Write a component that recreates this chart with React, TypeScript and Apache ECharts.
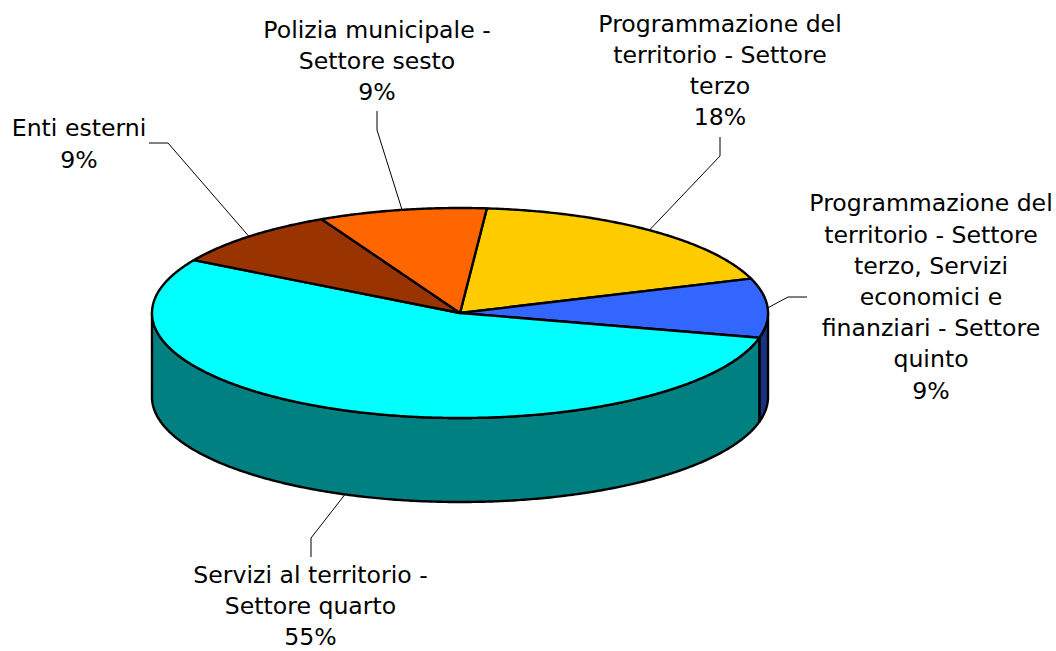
import React, { useEffect, useRef } from "react";
import * as echarts from "echarts";

const sliceNames = [
  "Programmazione del\nterritorio - Settore\nterzo",
  "Programmazione del\nterritorio - Settore\nterzo, Servizi\neconomici e\nfinanziari - Settore\nquinto",
  "Servizi al territorio -\nSettore quarto",
  "Enti esterni",
  "Polizia municipale -\nSettore sesto",
];
const sliceValues = [18.3, 9.1, 54.6, 9.2, 8.8];
const topColors = ["#FFCC00", "#3366FF", "#00FFFF", "#993300", "#FF6600"];
const wallColors = ["#7F6600", "#19337F", "#008080", "#4C1900", "#7F3300"];

// Layout of the drawing (pixels)
const CX = 460;
const CY = 313;
const RX = 308;
const RY = 105;
const DEPTH = 84;
const START_ANGLE = 5;
const LINE_STEP = 31.2;
const labelCenters = [
  [720, 70.5],
  [931, 297],
  [310.5, 606],
  [79, 144],
  [377, 61],
];
const leaderElbows = [
  [[720, 137], [720, 156]],
  [[807, 297], [788, 297]],
  [[311, 557], [311, 538]],
  [[149, 143], [168, 143]],
  [[377, 111], [377, 130]],
];

const total = sliceValues.reduce((a, b) => a + b, 0);
const angleAt = (index: number) =>
  START_ANGLE + (sliceValues.slice(0, index).reduce((a, b) => a + b, 0) / total) * 360;

const rimPoint = (deg: number, drop = 0): number[] => {
  const r = (deg * Math.PI) / 180;
  return [CX + RX * Math.sin(r), CY - RY * Math.cos(r) + drop];
};
const arc = (from: number, to: number, drop = 0): number[][] => {
  const n = Math.max(2, Math.ceil(Math.abs(to - from) * 2));
  const pts: number[][] = [];
  for (let i = 0; i <= n; i++) pts.push(rimPoint(from + ((to - from) * i) / n, drop));
  return pts;
};

const edge = { stroke: "#000", lineWidth: 2.4, lineJoin: "round" };

const renderWall = (_p: any, api: any) => {
  const i = api.value(0);
  const a0 = Math.max(angleAt(i), 90);
  const a1 = Math.min(angleAt(i) + (api.value(1) / total) * 360, 270);
  if (a1 <= a0) return { type: "group", children: [] };
  return {
    type: "polygon",
    shape: { points: [...arc(a0, a1), ...arc(a1, a0, DEPTH)] },
    style: { fill: wallColors[i], ...edge },
  };
};

const renderTop = (_p: any, api: any) => {
  const i = api.value(0);
  const a0 = angleAt(i);
  const sweep = (api.value(1) / total) * 360;
  return {
    type: "polygon",
    shape: { points: [[CX, CY], ...arc(a0, a0 + sweep)] },
    style: { fill: topColors[i], ...edge },
  };
};

const renderLabel = (_p: any, api: any) => {
  const i = api.value(0);
  const value = api.value(1);
  const mid = angleAt(i) + (value / total) * 180;
  const norm = ((mid % 360) + 360) % 360;
  const front = norm > 90 && norm < 270;
  const anchor = rimPoint(mid, front ? DEPTH : 0);
  const pct = Math.round((value / total) * 100);
  const lines = [...sliceNames[i].split("\n"), `${pct}%`];
  return {
    type: "group",
    children: [
      {
        type: "polyline",
        shape: { points: [...leaderElbows[i], anchor] },
        style: { fill: "none", stroke: "#000", lineWidth: 1 },
      },
      ...lines.map((line, k) => ({
        type: "text",
        x: labelCenters[i][0],
        y: labelCenters[i][1] + (k - (lines.length - 1) / 2) * LINE_STEP,
        style: {
          text: line,
          fill: "#000",
          font: '23.6px "DejaVu Sans"',
          align: "center",
          verticalAlign: "middle",
        },
      })),
    ],
  };
};

export default function App() {
  const ref = useRef<HTMLDivElement>(null);
  useEffect(() => {
    const chart = echarts.init(ref.current!, undefined, { renderer: "svg" });
    const data = sliceValues.map((v, i) => [i, v]);
    chart.setOption({
      animation: false,
      backgroundColor: "#fff",
      series: [
        { type: "custom", coordinateSystem: "none", silent: true, z: 1, data, renderItem: renderWall },
        { type: "custom", coordinateSystem: "none", silent: true, z: 2, data, renderItem: renderTop },
        { type: "custom", coordinateSystem: "none", silent: true, z: 3, data, renderItem: renderLabel },
      ],
    });
    return () => chart.dispose();
  }, []);
  return <div ref={ref} style={{ position: "absolute", left: 0, top: 0, width: 1056, height: 651 }} />;
}
